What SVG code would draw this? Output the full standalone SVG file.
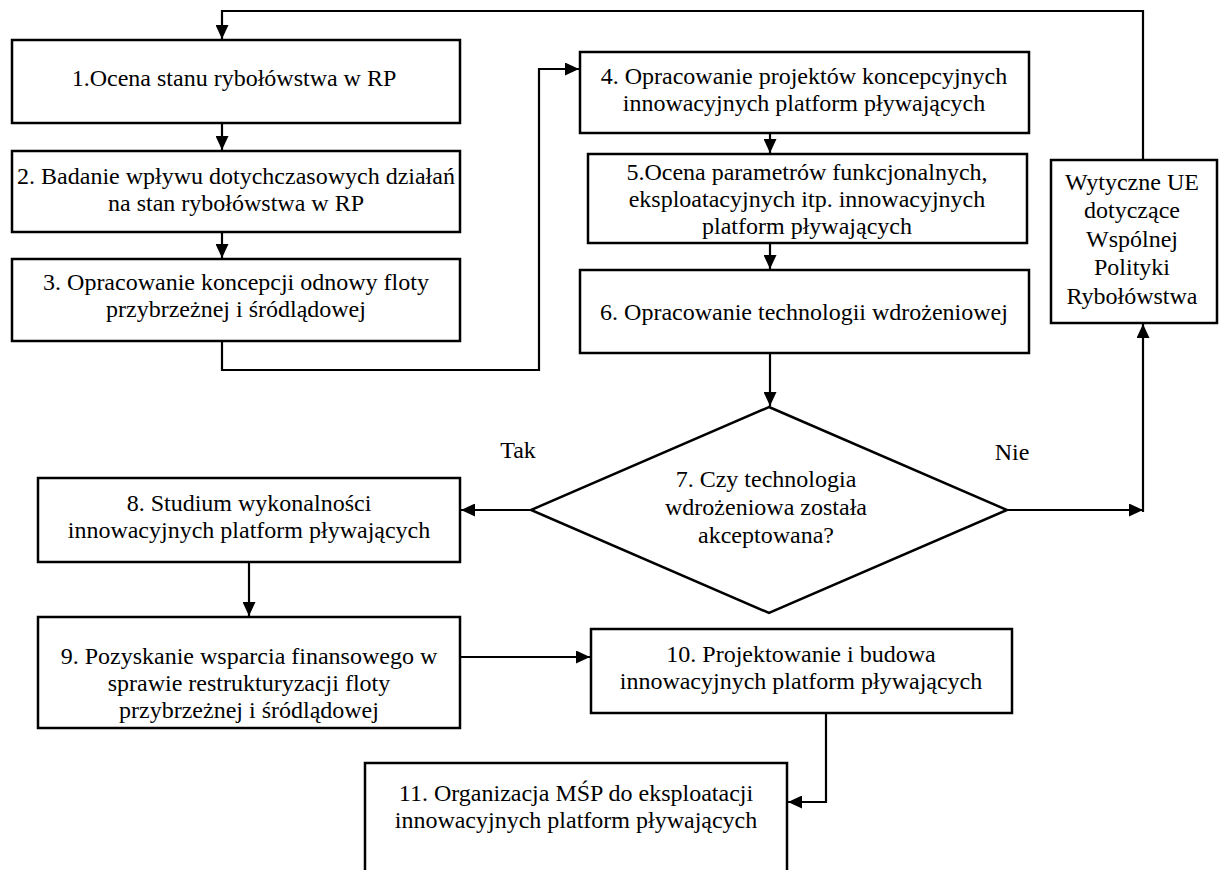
<svg xmlns="http://www.w3.org/2000/svg" width="1219" height="870" viewBox="0 0 1219 870">
<style>
.box{fill:#fff;stroke:#000;stroke-width:2.5}
.t{font-family:"Liberation Serif","Times New Roman",serif;font-size:24px;fill:#000;text-anchor:middle}
.c{fill:none;stroke:#000;stroke-width:2.2}
</style>
<defs>
<marker id="ah" markerUnits="userSpaceOnUse" markerWidth="15" markerHeight="13" refX="14" refY="6.5" orient="auto">
<path d="M0,0 L14,6.5 L0,13 z" fill="#000"/>
</marker>
</defs>
<rect width="1219" height="870" fill="#fff"/>
<g id="connectors">
<path class="c" d="M1143,160 V11 H222 V39" marker-end="url(#ah)"/>
<path class="c" d="M222,123 V150" marker-end="url(#ah)"/>
<path class="c" d="M222,232 V258" marker-end="url(#ah)"/>
<path class="c" d="M222,341 V370 H539 V69 H579" marker-end="url(#ah)"/>
<path class="c" d="M770,133 V153" marker-end="url(#ah)"/>
<path class="c" d="M770,243 V269" marker-end="url(#ah)"/>
<path class="c" d="M770,353 V406" marker-end="url(#ah)"/>
<path class="c" d="M531,510 H461" marker-end="url(#ah)"/>
<path class="c" d="M1007,510 H1143" marker-end="url(#ah)"/>
<path class="c" d="M1143,512 V324" marker-end="url(#ah)"/>
<path class="c" d="M249,562 V616" marker-end="url(#ah)"/>
<path class="c" d="M460,657 H590" marker-end="url(#ah)"/>
<path class="c" d="M826,713 V802 H788" marker-end="url(#ah)"/>
</g>
<g id="n1"><rect class="box" x="12" y="40" width="448" height="83"/><text class="t" x="234" y="86">1.Ocena stanu rybołówstwa w RP</text></g>
<g id="n2"><rect class="box" x="12" y="151" width="448" height="81"/><text class="t" x="236" y="184">2. Badanie wpływu dotychczasowych działań</text><text class="t" x="236" y="211">na stan rybołówstwa w RP</text></g>
<g id="n3"><rect class="box" x="12" y="259" width="448" height="82"/><text class="t" x="236" y="290">3. Opracowanie koncepcji odnowy floty</text><text class="t" x="236" y="317">przybrzeżnej i śródlądowej</text></g>
<g id="n4"><rect class="box" x="580" y="52" width="449" height="81"/><text class="t" x="804" y="84">4. Opracowanie projektów koncepcyjnych</text><text class="t" x="804" y="111">innowacyjnych platform pływających</text></g>
<g id="n5"><rect class="box" x="588" y="154" width="439" height="89"/><text class="t" x="807" y="180">5.Ocena parametrów funkcjonalnych,</text><text class="t" x="807" y="207">eksploatacyjnych itp. innowacyjnych</text><text class="t" x="807" y="234">platform pływających</text></g>
<g id="n6"><rect class="box" x="580" y="270" width="449" height="83"/><text class="t" x="804" y="320">6. Opracowanie technologii wdrożeniowej</text></g>
<g id="n7"><polygon class="box" points="769,407 1007,510 769,613 531,510"/><text class="t" x="766" y="487">7. Czy technologia</text><text class="t" x="766" y="515">wdrożeniowa została</text><text class="t" x="766" y="543">akceptowana?</text></g>
<g id="wytyczne"><rect class="box" x="1051" y="160" width="166" height="163"/><text class="t" x="1132" y="190">Wytyczne UE</text><text class="t" x="1132" y="218">dotyczące</text><text class="t" x="1132" y="247">Wspólnej</text><text class="t" x="1132" y="275">Polityki</text><text class="t" x="1132" y="304">Rybołówstwa</text></g>
<g id="labels"><text class="t" x="518" y="458">Tak</text><text class="t" x="1012" y="460">Nie</text></g>
<g id="n8"><rect class="box" x="38" y="478" width="422" height="84"/><text class="t" x="249" y="511">8. Studium wykonalności</text><text class="t" x="249" y="538">innowacyjnych platform pływających</text></g>
<g id="n9"><rect class="box" x="38" y="617" width="422" height="111"/><text class="t" x="249" y="664">9. Pozyskanie wsparcia finansowego w</text><text class="t" x="249" y="691">sprawie restrukturyzacji floty</text><text class="t" x="249" y="718">przybrzeżnej i śródlądowej</text></g>
<g id="n10"><rect class="box" x="591" y="629" width="421" height="84"/><text class="t" x="801" y="662">10. Projektowanie i budowa</text><text class="t" x="801" y="689">innowacyjnych platform pływających</text></g>
<g id="n11"><rect class="box" x="365" y="763" width="422" height="130"/><text class="t" x="576" y="801">11. Organizacja MŚP do eksploatacji</text><text class="t" x="576" y="828">innowacyjnych platform pływających</text></g>
</svg>
